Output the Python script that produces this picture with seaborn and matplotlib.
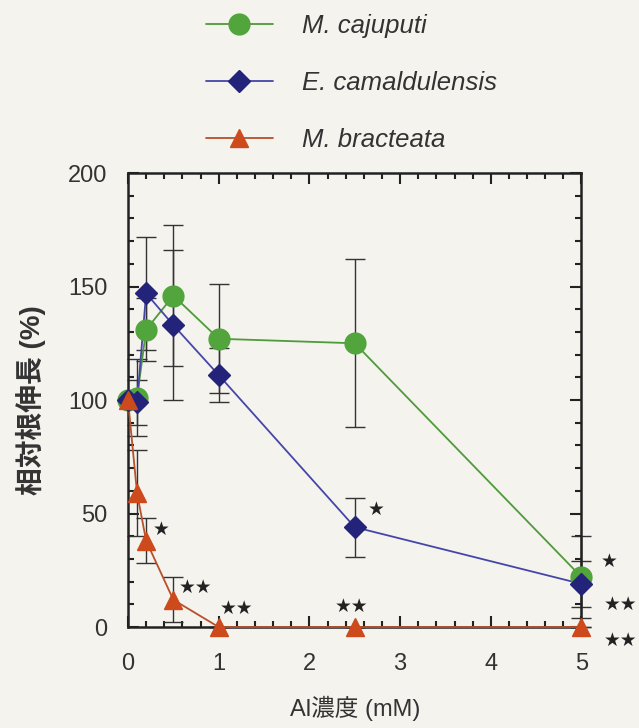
import pandas as pd
import matplotlib
matplotlib.use("Agg")
import matplotlib.pyplot as plt
from matplotlib.ticker import MultipleLocator
import seaborn as sns

# data
conc = [0, 0.1, 0.2, 0.5, 1, 2.5, 5]
cajuputi = [100, 101, 131, 146, 127, 125, 22]
cajuputi_sd = [0, 17, 14, 31, 24, 37, 18]
camal = [100, 99, 147, 133, 111, 44, 19]
camal_sd = [0, 10, 25, 33, 12, 13, 10]
bract = [100, 59, 38, 12, 0, 0, 0]
bract_sd = [0, 19, 10, 10, 0, 0, 0]

species = ["M. cajuputi", "E. camaldulensis", "M. bracteata"]
colors = ["#52a43c", "#23237a", "#cc4a1c"]
line_colors = ["#4f9a3a", "#4646a8", "#b8502c"]
markers = ["o", "D", "^"]
msizes = [15, 11.5, 12.5]

sig_x = [2.74, 0.37, 0.74, 1.2, 2.47, 5.3, 5.43, 5.43]
sig_y = [52, 43, 17.5, 8, 9, 29, 10, -6]
sig_txt = ["★", "★", "★★", "★★", "★★", "★", "★★", "★★"]

rows = []
for name, vals, sds in zip(species, [cajuputi, camal, bract],
                           [cajuputi_sd, camal_sd, bract_sd]):
    for c, v, s in zip(conc, vals, sds):
        rows.append({"conc": c, "value": v, "sd": s, "species": name})
df = pd.DataFrame(rows)

sns.set_theme(style="ticks")
plt.rcParams["font.family"] = ["Liberation Sans", "Noto Sans CJK JP", "DejaVu Sans"]
bg = "#f4f3ee"

fig = plt.figure(figsize=(6.39, 7.28), dpi=100, facecolor=bg)
ax = fig.add_axes([0.2003, 0.1387, 0.7097, 0.6236])
ax.set_facecolor(bg)

# error bars first, behind markers
for name in species:
    d = df[df["species"] == name]
    ax.errorbar(d["conc"], d["value"], yerr=d["sd"], fmt="none",
                ecolor="#333333", elinewidth=1.0, capsize=7, capthick=1.0,
                zorder=2, clip_on=False)

handles = []
for i, name in enumerate(species):
    d = df[df["species"] == name]
    sns.lineplot(data=d, x="conc", y="value", ax=ax, color=line_colors[i],
                 linewidth=1.3, legend=False, zorder=3, clip_on=False)
    ax.plot(d["conc"], d["value"], linestyle="none", marker=markers[i],
            markersize=msizes[i], markerfacecolor=colors[i],
            markeredgecolor=colors[i], zorder=4, clip_on=False)
    handles.append(plt.Line2D([], [], color=line_colors[i], linewidth=1.3,
                              marker=markers[i], markersize=msizes[i],
                              markerfacecolor=colors[i],
                              markeredgecolor=colors[i]))

for x, y, t in zip(sig_x, sig_y, sig_txt):
    ax.text(x, y, t, ha="center", va="center", fontsize=13.5,
            family=["DejaVu Sans"], color="#222222", clip_on=False)

ax.set_xlim(0, 5)
ax.set_ylim(0, 200)
ax.xaxis.set_major_locator(MultipleLocator(1))
ax.xaxis.set_minor_locator(MultipleLocator(0.2))
ax.yaxis.set_major_locator(MultipleLocator(50))
ax.yaxis.set_minor_locator(MultipleLocator(10))
ax.tick_params(which="both", direction="in", top=True, right=True,
               width=1.5, colors="#222222", labelcolor="#333333",
               labelsize=17)
ax.tick_params(axis="x", which="both", pad=19)
ax.tick_params(axis="y", which="both", pad=15)
ax.tick_params(which="major", length=8)
ax.tick_params(which="minor", length=4)
for sp in ax.spines.values():
    sp.set_linewidth(1.8)
    sp.set_color("#222222")

ax.set_xlabel("Al濃度 (mM)", fontsize=17, color="#333333", labelpad=15)
ax.set_ylabel("相対根伸長 (%)", fontsize=20, color="#333333", labelpad=16,
              fontweight="bold")

leg = fig.legend(handles, species, loc="upper left",
                 bbox_to_anchor=(0.286, 1.013), frameon=False,
                 handlelength=2.6, handletextpad=1.15, labelspacing=1.3,
                 prop={"style": "italic", "size": 18.5})
for t in leg.get_texts():
    t.set_color("#333333")

fig.savefig("out.png", dpi=100, facecolor=bg)
